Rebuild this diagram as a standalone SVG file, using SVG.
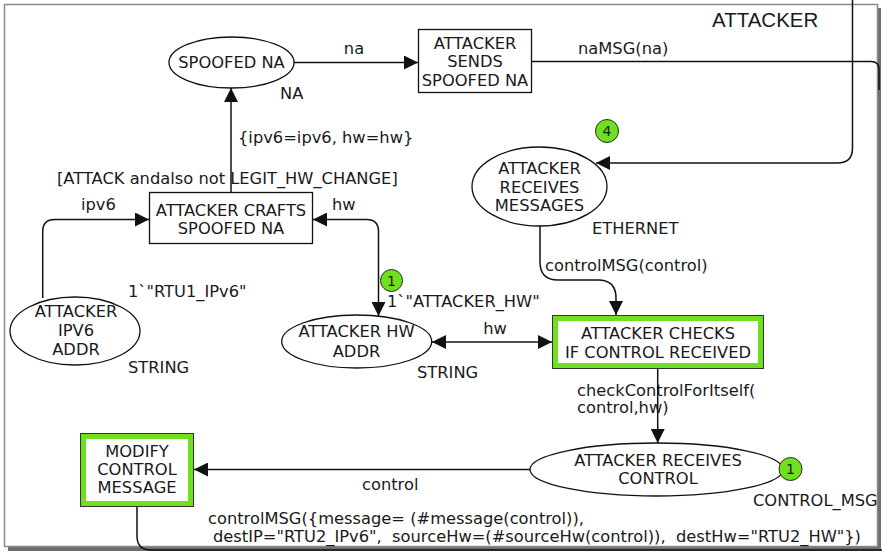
<svg xmlns="http://www.w3.org/2000/svg" width="882" height="552" viewBox="0 0 882 552">
<defs>
<marker id="arr" markerUnits="userSpaceOnUse" markerWidth="14" markerHeight="14" refX="14" refY="7" orient="auto-start-reverse" viewBox="0 0 14 14">
<path d="M0,0 L14,7 L0,14 z" fill="#111"/>
</marker>
<style>
text{font-family:"DejaVu Sans","Verdana",sans-serif;font-size:16.3px;fill:#1a1a1a}
.c{text-anchor:middle}
.place{fill:#fff;stroke:#111;stroke-width:1.3}
.trans{fill:#fff;stroke:#111;stroke-width:1.3}
.green{fill:none;stroke:#6ee01f;stroke-width:5}
.tok{fill:#6ee01f;stroke:#2a2a2a;stroke-width:1}
.tokt{font-size:14px;text-anchor:middle}
.arc{fill:none;stroke:#111;stroke-width:1.5}
.title{font-family:"Liberation Sans",Arial,sans-serif;font-size:20.5px}
</style>
</defs>
<rect x="8" y="8" width="873" height="543" fill="#6e6e6e"/>
<rect x="4.5" y="4.5" width="873" height="542" fill="#fff" stroke="#8a8a8a" stroke-width="1.5"/>
<text class="title" x="712" y="27">ATTACKER</text>

<g id="connectors">
<path class="arc" d="M294,62.5 H418" marker-end="url(#arr)"/>
<path class="arc" d="M531,61.5 H871 Q879,61.5 879,69.5 V90"/>
<path class="arc" d="M852.5,0 V148 Q852.5,163 837.5,163 H596" marker-end="url(#arr)"/>
<path class="arc" d="M231,192 V88" marker-end="url(#arr)"/>
<path class="arc" d="M42.7,298 V231.5 Q42.7,219.5 54.7,219.5 H149" marker-end="url(#arr)"/>
<path class="arc" d="M313,219.5 H366.5 Q378.5,219.5 378.5,231.5 V316" marker-start="url(#arr)" marker-end="url(#arr)"/>
<path class="arc" d="M432,342 H552" marker-start="url(#arr)" marker-end="url(#arr)"/>
<path class="arc" d="M540,226 V262 Q540,280 558,280 H598 Q616,280 616,298 V315" marker-end="url(#arr)"/>
<path class="arc" d="M657.7,369 V443" marker-end="url(#arr)"/>
<path class="arc" d="M530,469.5 H194" marker-end="url(#arr)"/>
<path class="arc" d="M137,507 V536 Q137,550 151,550 H882"/>
<text class="c" x="354" y="53.7">na</text>
<text x="578" y="53.7">naMSG(na)</text>
<text x="238" y="142.7">{ipv6=ipv6, hw=hw}</text>
<text x="81" y="209.7">ipv6</text>
<text x="332" y="209.7">hw</text>
<text class="c" x="495" y="333.7">hw</text>
<text x="545" y="271.4">controlMSG(control)</text>
<text x="577" y="395.7">checkControlForItself(</text>
<text x="577" y="413.4">control,hw)</text>
<text x="362" y="490">control</text>
<text x="208" y="524" xml:space="preserve">controlMSG({message= (#message(control)),</text>
<text x="213" y="541.7" xml:space="preserve">destIP="RTU2_IPv6",  sourceHw=(#sourceHw(control)),  destHw="RTU2_HW"})</text>
</g>

<g id="spoofed-na">
<ellipse class="place" cx="231.5" cy="62.5" rx="62.5" ry="25.5"/>
<text class="c" x="231.5" y="68.2">SPOOFED NA</text>
<text x="280" y="99">NA</text>
</g>

<g id="attacker-sends">
<rect class="trans" x="418.5" y="29.5" width="113" height="63"/>
<text class="c" x="475" y="48.7">ATTACKER</text>
<text class="c" x="475" y="67.2">SENDS</text>
<text class="c" x="475" y="85.7">SPOOFED NA</text>
</g>

<g id="attacker-crafts">
<rect class="trans" x="149.5" y="192.5" width="163" height="51"/>
<text class="c" x="231" y="215.7">ATTACKER CRAFTS</text>
<text class="c" x="231" y="233.7">SPOOFED NA</text>
<text x="57" y="183.7">[ATTACK andalso not LEGIT_HW_CHANGE]</text>
</g>

<g id="attacker-ipv6-addr">
<ellipse class="place" cx="75" cy="331" rx="65" ry="34"/>
<text class="c" x="76" y="317.4">ATTACKER</text>
<text class="c" x="76" y="336.4">IPV6</text>
<text class="c" x="76" y="354.7">ADDR</text>
<text x="128" y="297.4">1`"RTU1_IPv6"</text>
<text x="128" y="372.7">STRING</text>
</g>

<g id="attacker-hw-addr">
<ellipse class="place" cx="356.7" cy="341.5" rx="75" ry="26.5"/>
<text class="c" x="356.5" y="337.4">ATTACKER HW</text>
<text class="c" x="356.5" y="356.7">ADDR</text>
<text x="387" y="307.4">1`"ATTACKER_HW"</text>
<text x="417" y="378.4">STRING</text>
<circle class="tok" cx="391.5" cy="280.5" r="11"/>
<text class="tokt" x="391.5" y="285.5">1</text>
</g>

<g id="attacker-receives-messages">
<ellipse class="place" cx="539.5" cy="186.5" rx="67.5" ry="39.5"/>
<text class="c" x="539.5" y="173.7">ATTACKER</text>
<text class="c" x="539.5" y="192.7">RECEIVES</text>
<text class="c" x="539.5" y="210.7">MESSAGES</text>
<text x="592" y="233.7">ETHERNET</text>
<circle class="tok" cx="607" cy="131" r="11.5"/>
<text class="tokt" x="607" y="136">4</text>
</g>

<g id="attacker-checks">
<rect x="552.5" y="315.5" width="211" height="53" fill="#fff" stroke="#333" stroke-width="1"/>
<rect class="green" x="555.5" y="318.5" width="205" height="47"/>
<text class="c" x="658" y="338.7">ATTACKER CHECKS</text>
<text class="c" x="658" y="357.7">IF CONTROL RECEIVED</text>
</g>

<g id="attacker-receives-control">
<ellipse class="place" cx="656.5" cy="469.5" rx="126.5" ry="26.5"/>
<text class="c" x="658" y="466.4">ATTACKER RECEIVES</text>
<text class="c" x="658" y="483.7">CONTROL</text>
<text x="753" y="505.7">CONTROL_MSG</text>
<circle class="tok" cx="790.5" cy="469" r="11.5"/>
<text class="tokt" x="790.5" y="474">1</text>
</g>

<g id="modify-control-message">
<rect x="80.5" y="433.5" width="113" height="73" fill="#fff" stroke="#333" stroke-width="1"/>
<rect class="green" x="83.5" y="436.5" width="107" height="67"/>
<text class="c" x="137" y="456.7">MODIFY</text>
<text class="c" x="137" y="475">CONTROL</text>
<text class="c" x="137" y="493.4">MESSAGE</text>
</g>
</svg>
